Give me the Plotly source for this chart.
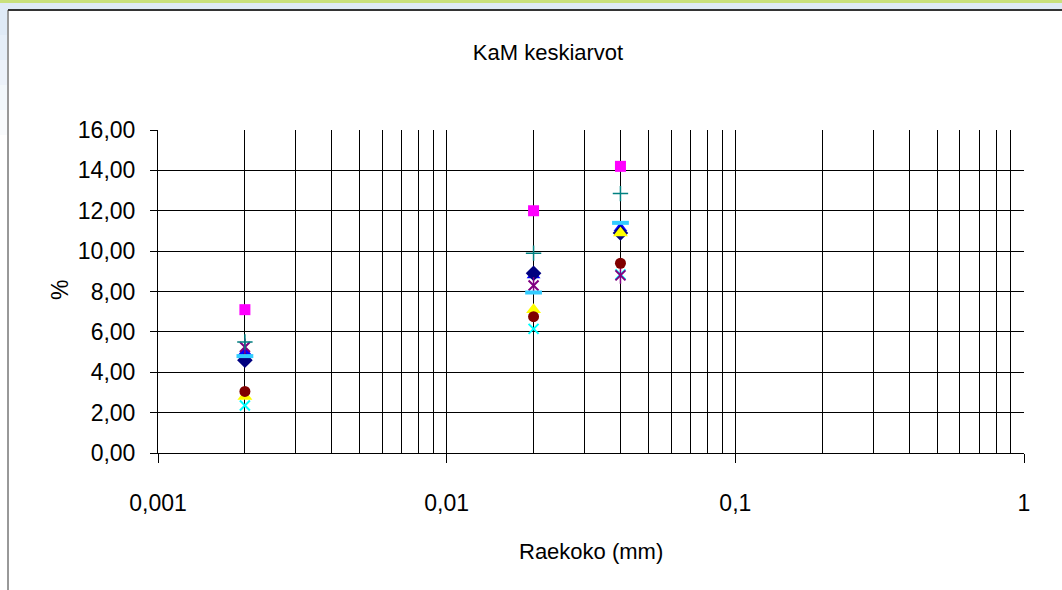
import plotly.graph_objects as go

# ---- data ----
grain_size_mm = [0.002, 0.02, 0.04]
s_navy_diamond = [4.6, 8.9, 10.9]
s_magenta_square = [7.1, 12.0, 14.2]
s_yellow_triangle = [2.8, 7.1, 10.9]
s_cyan_x = [2.35, 6.15, 8.85]
s_purple_star = [5.25, 8.3, 8.8]
s_darkred_circle = [3.05, 6.75, 9.4]
s_teal_plus = [5.5, 9.9, 12.85]
s_blue_triangle = [5.0, 8.8, 11.15]
s_sky_dash = [4.8, 7.95, 11.4]

x_tickvals = [0.001, 0.01, 0.1, 1]
x_ticktext = ["0,001", "0,01", "0,1", "1"]
y_tickvals = [0, 2, 4, 6, 8, 10, 12, 14, 16]
y_ticktext = ["0,00", "2,00", "4,00", "6,00", "8,00", "10,00", "12,00", "14,00", "16,00"]
minor_vals = [m * d for d in (0.001, 0.01, 0.1) for m in range(2, 10)]

title_text = "KaM keskiarvot"
x_title = "Raekoko (mm)"
y_title = "%"

# ---- layout geometry (pixels) ----
W, H = 1062, 590
L, R, T, B = 158, 38, 130, 137
PW, PH = W - L - R, H - T - B

def px2paper_x(px):
    return (px - L) / PW

def px2paper_y(py):
    return (H - B - py) / PH

FONT = "Liberation Sans, Arial, sans-serif"

fig = go.Figure()

def add(y, symbol, color, size, line_w=0, open_=False, name=""):
    if open_:
        marker = dict(symbol=symbol, size=size, color=color,
                      line=dict(color=color, width=line_w))
    else:
        marker = dict(symbol=symbol, size=size, color=color, line=dict(width=0))
    fig.add_trace(go.Scatter(x=grain_size_mm, y=y, mode="markers", marker=marker,
                             name=name, showlegend=False, hoverinfo="x+y"))

add(s_blue_triangle, "triangle-up", "#0000FF", 12, name="s8")
add(s_navy_diamond, "diamond", "#000080", 12, name="s1")
add(s_magenta_square, "square", "#FF00FF", 11, name="s2")
add(s_yellow_triangle, "triangle-up", "#FFFF00", 13, name="s3")
add(s_cyan_x, "x-thin-open", "#00FFFF", 10, line_w=2, open_=True, name="s4")
add(s_purple_star, "x-thin-open", "#800080", 10, line_w=2, open_=True, name="s5")
add(s_purple_star, "line-ns-open", "#800080", 12, line_w=1.5, open_=True, name="s5b")
add(s_darkred_circle, "circle", "#800000", 11, name="s6")
add(s_teal_plus, "cross-thin-open", "#008080", 11, line_w=1.5, open_=True, name="s7")
add(s_sky_dash, "line-ew-open", "#33CCFF", 12, line_w=4, open_=True, name="s9")

fig.update_layout(
    width=W, height=H,
    margin=dict(l=L, r=R, t=T, b=B, pad=0),
    paper_bgcolor="white", plot_bgcolor="white",
    font=dict(family=FONT, color="black"),
    title=dict(text=title_text, x=548 / W, xanchor="center", y=1 - 52 / H, yanchor="middle",
               font=dict(size=22, family=FONT, color="black")),
    showlegend=False,
)

fig.update_xaxes(
    type="log", range=[-3, 0],
    tickvals=x_tickvals, ticktext=x_ticktext,
    showgrid=True, gridcolor="black", gridwidth=1,
    showline=True, linecolor="black", linewidth=1,
    ticks="outside", ticklen=9, tickcolor="black", tickwidth=1,
    tickfont=dict(size=23, family=FONT, color="black"),
    ticklabelstandoff=20,
    minor=dict(tickvals=minor_vals, showgrid=True, gridcolor="black", gridwidth=1, ticks=""),
    zeroline=False, fixedrange=True,
)
fig.update_yaxes(
    range=[0, 16],
    tickvals=y_tickvals, ticktext=y_ticktext,
    showgrid=True, gridcolor="black", gridwidth=1,
    showline=True, linecolor="black", linewidth=1,
    ticks="outside", ticklen=7, tickcolor="black", tickwidth=1,
    tickfont=dict(size=23, family=FONT, color="black"),
    ticklabelstandoff=10,
    zeroline=False, fixedrange=True,
)

# axis titles
fig.add_annotation(text=y_title, xref="paper", yref="paper",
                   x=px2paper_x(60), y=px2paper_y(290), textangle=-90,
                   showarrow=False, xanchor="center", yanchor="middle",
                   font=dict(size=23, family=FONT, color="black"))
fig.add_annotation(text=x_title, xref="paper", yref="paper",
                   x=px2paper_x(591), y=px2paper_y(551),
                   showarrow=False, xanchor="center", yanchor="middle",
                   font=dict(size=22, family=FONT, color="black"))

# window chrome / chart-area border
shapes = []
shapes.append(dict(type="rect", xref="paper", yref="paper", layer="below",
                   x0=px2paper_x(0), x1=px2paper_x(W), y0=px2paper_y(10), y1=px2paper_y(0),
                   fillcolor="#dfeaf6", line=dict(width=0)))
shapes.append(dict(type="rect", xref="paper", yref="paper", layer="below",
                   x0=px2paper_x(0), x1=px2paper_x(W), y0=px2paper_y(3), y1=px2paper_y(0),
                   fillcolor="#c9e07c", line=dict(width=0)))
for i, op in enumerate([1.0, 0.8, 0.6, 0.4, 0.2]):
    shapes.append(dict(type="rect", xref="paper", yref="paper", layer="below",
                       x0=px2paper_x(0), x1=px2paper_x(7),
                       y0=px2paper_y(10 + 25 * (i + 1)), y1=px2paper_y(10 + 25 * i),
                       fillcolor="#dfeaf6", opacity=op, line=dict(width=0)))
shapes.append(dict(type="line", xref="paper", yref="paper",
                   x0=px2paper_x(8), x1=px2paper_x(W), y0=px2paper_y(10), y1=px2paper_y(10),
                   line=dict(color="#333333", width=2)))
shapes.append(dict(type="line", xref="paper", yref="paper",
                   x0=px2paper_x(8), x1=px2paper_x(8), y0=px2paper_y(10), y1=px2paper_y(H),
                   line=dict(color="#333333", width=1)))
fig.update_layout(shapes=shapes)

fig.write_html("out.html")
